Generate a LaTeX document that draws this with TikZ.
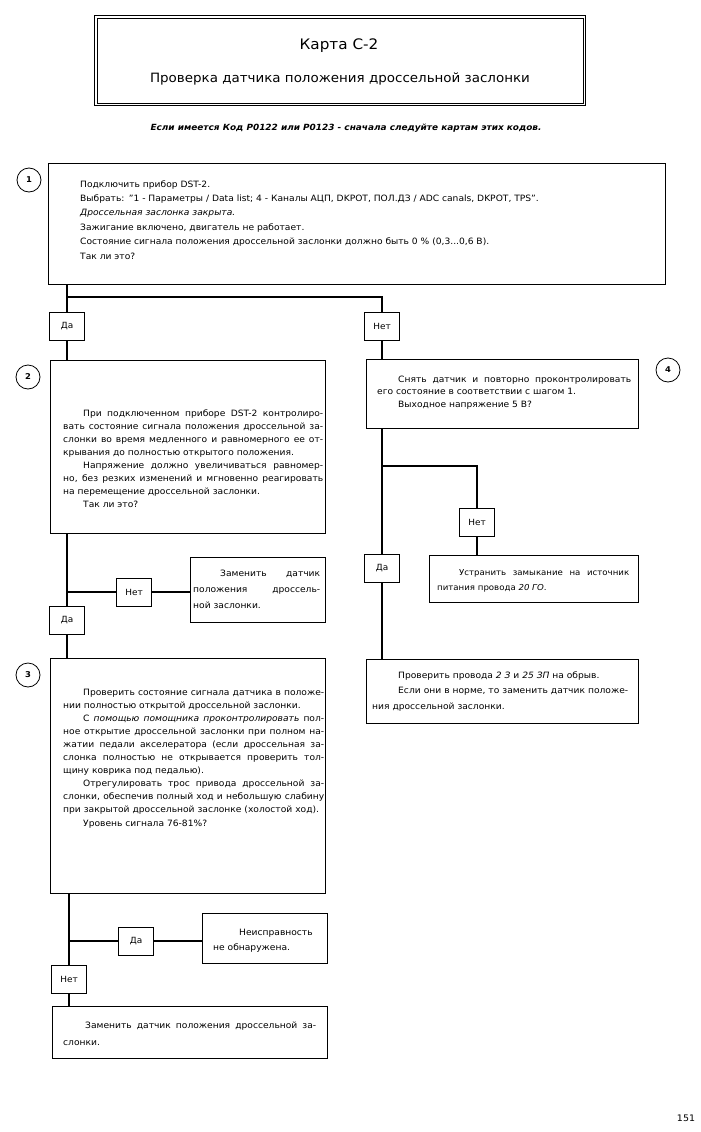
\documentclass[tikz,border=0pt]{standalone}
\usepackage{fontspec}
\setmainfont[FakeStretch=1.05]{DejaVu Sans}
\usetikzlibrary{positioning}
\tolerance=9999
\hbadness=10000
\hyphenpenalty=10000
\exhyphenpenalty=10000
\newcommand{\ind}[1][20pt]{\hspace*{#1}}

\begin{document}
\begin{tikzpicture}[x=1pt, y=-1pt,
    box/.style={draw, line width=0.6pt, inner sep=0pt, anchor=north west},
    lab/.style={draw, line width=0.6pt, minimum width=35pt, minimum height=28pt, inner sep=0pt, font=\fontsize{8.5}{9}\selectfont},
    link/.style={line width=2.3pt},
    txt/.style={anchor=base west, inner sep=0pt, align=justify, font=\fontsize{8.7}{#1}\selectfont},
    txt/.default=13,
    num/.style={draw, circle, line width=0.8pt, minimum size=24pt, inner sep=0pt, font=\bfseries\fontsize{8}{9}\selectfont}]
  \useasboundingbox (0,0) rectangle (701,1132);

  % header
  \node[box, line width=0.9pt, minimum width=491, minimum height=90] (head) at (94,15) {};
  \draw[line width=0.6pt] ([shift={(3,3)}]head.north west) rectangle ([shift={(-3,-3)}]head.south east);
  \node[font=\fontsize{14.5}{16}\selectfont] (ttl) at (339,46) {Карта С-2};
  \node[font=\fontsize{12.8}{14}\selectfont] (sub) at (340,79) {Проверка датчика положения дроссельной заслонки};
  \node[font=\bfseries\itshape\fontsize{8.5}{10}\selectfont] (note) at (346,128) {Если имеется Код P0122 или P0123 - сначала следуйте картам этих кодов.};

  % step 1
  \node[box, minimum width=617, minimum height=121] (b1) at (48,163) {};
  \node[num] (c1) at (29,180) {1};
  \node[txt=14.4, align=left, text width=575] (t1) at (80,187) {Подключить прибор DST-2.\\
    Выбрать: "1 - Параметры / Data list; 4 - Каналы АЦП, DKPOT, ПОЛ.ДЗ / ADC canals, DKPOT, TPS".\\
    \textit{Дроссельная заслонка закрыта.}\\
    Зажигание включено, двигатель не работает.\\
    Состояние сигнала положения дроссельной заслонки должно быть 0 \% (0,3...0,6 В).\\
    Так ли это?};

  \node[lab] (d1) at (67,326) {Да};
  \node[lab] (n1) at (382,326) {Нет};
  \coordinate (j1) at (67,297);
  \draw[link] (b1.south -| d1) -- (d1.north);
  \draw[link] (j1) -| (n1.north);

  % step 2
  \node[box, minimum width=275, minimum height=173] (b2) at (50,360) {};
  \node[num] (c2) at (28,377) {2};
  \node[txt, text width=260] (t2) at (63,416) {\ind При подключенном приборе DST-2 контролиро-\linebreak
    вать состояние сигнала положения дроссельной за-\linebreak
    слонки во время медленного и равномерного ее от-\linebreak
    крывания до полностью открытого положения.\par
    \ind Напряжение должно увеличиваться равномер-\linebreak
    но, без резких изменений и мгновенно реагировать\linebreak
    на перемещение дроссельной заслонки.\par
    \ind Так ли это?};
  \draw[link] (d1.south) -- (d1.south |- b2.north);

  \node[lab] (d3) at (67,620) {Да};
  \node[lab] (n3) at (134,592) {Нет};
  \node[box, minimum width=135, minimum height=65] (b7) at (190,557) {};
  \node[txt=16, text width=127] (t7) at (193,576) {\ind[27pt]Заменить датчик\linebreak
    положения дроссель-\linebreak
    ной заслонки.};
  \coordinate (j2) at (67,592);
  \draw[link] (b2.south -| d3) -- (d3.north);
  \draw[link] (j2) -- (n3.west);
  \draw[link] (n3.east) -- (n3.east -| b7.west);

  % step 3
  \node[box, minimum width=275, minimum height=235] (b3) at (50,658) {};
  \node[num] (c3) at (28,675) {3};
  \node[txt=13.1, text width=261] (t3) at (63,695) {\ind Проверить состояние сигнала датчика в положе-\linebreak
    нии полностью открытой дроссельной заслонки.\par
    \ind С \textit{помощью помощника проконтролировать} пол-\linebreak
    ное открытие дроссельной заслонки при полном на-\linebreak
    жатии педали акселератора (если дроссельная за-\linebreak
    слонка полностью не открывается проверить тол-\linebreak
    щину коврика под педалью).\par
    \ind Отрегулировать трос привода дроссельной за-\linebreak
    слонки, обеспечив полный ход и небольшую слабину\linebreak
    при закрытой дроссельной заслонке (холостой ход).\par
    \ind Уровень сигнала 76-81\%?};
  \draw[link] (d3.south) -- (d3.south |- b3.north);

  \node[lab] (n4) at (69,979) {Нет};
  \node[lab] (d4) at (136,941) {Да};
  \node[box, minimum width=125, minimum height=50] (b8) at (202,913) {};
  \node[txt=15.5, text width=101] (t8) at (213,935) {\ind[26pt]Неисправность\linebreak
    не обнаружена.};
  \coordinate (j3) at (69,941);
  \draw[link] (b3.south -| n4) -- (n4.north);
  \draw[link] (j3) -- (d4.west);
  \draw[link] (d4.east) -- (d4.east -| b8.west);

  \node[box, minimum width=275, minimum height=52] (b9) at (52,1006) {};
  \node[txt=17, text width=253] (t9) at (63,1028) {\ind[22pt]Заменить датчик положения дроссельной за-\linebreak
    слонки.};
  \draw[link] (n4.south) -- (n4.south |- b9.north);

  % step 4
  \node[box, minimum width=272, minimum height=69] (b4) at (366,359) {};
  \node[num] (c4) at (668,370) {4};
  \node[txt=12.5, text width=254] (t4) at (377,382) {\ind[21pt]Снять датчик и повторно проконтролировать\linebreak
    его состояние в соответствии с шагом 1.\par
    \ind[21pt]Выходное напряжение 5 В?};
  \draw[link] (n1.south) -- (n1.south |- b4.north);

  \node[lab] (d2) at (382,568) {Да};
  \node[lab] (n2) at (477,522) {Нет};
  \node[box, minimum width=209, minimum height=47] (b5) at (429,555) {};
  \node[txt=15, text width=192, font=\fontsize{8.2}{15}\selectfont] (t5) at (437,575) {\ind[22pt]Устранить замыкание на источник\linebreak
    питания провода \textit{20 ГО}.};
  \node[box, minimum width=272, minimum height=64] (b6) at (366,659) {};
  \node[txt=15.5, text width=256] (t6) at (372,678) {\ind[26pt]Проверить провода \textit{2 З} и \textit{25 ЗП} на обрыв.\par
    \ind[26pt]Если они в норме, то заменить датчик положе-\linebreak
    ния дроссельной заслонки.};
  \coordinate (j4) at (382,466);
  \draw[link] (b4.south -| d2) -- (d2.north);
  \draw[link] (j4) -| (n2.north);
  \draw[link] (n2.south) -- (n2.south |- b5.north);
  \draw[link] (d2.south) -- (d2.south |- b6.north);

  \node[font=\fontsize{9}{10}\selectfont] (pg) at (686,1118) {151};
\end{tikzpicture}
\end{document}
